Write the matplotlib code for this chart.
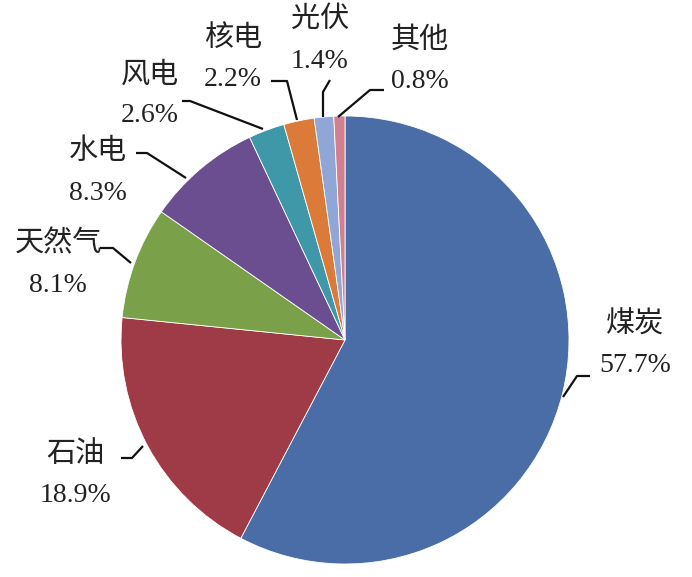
import matplotlib
matplotlib.use('Agg')
import matplotlib.pyplot as plt

plt.rcParams['font.family'] = ['Liberation Serif', 'Noto Sans CJK SC']

# energy mix shares (%)
sources = ['煤炭', '石油', '天然气', '水电', '风电', '核电', '光伏', '其他']
shares = [57.7, 18.9, 8.1, 8.3, 2.6, 2.2, 1.4, 0.8]
colors = ['#4A6DA7', '#9E3B47', '#7BA04A', '#6A4E8F',
          '#3E98A8', '#DC7A3A', '#8FA6D6', '#D0808F']

W, H = 692, 577
cx, cy, r = 345, 340, 224

def px(x, y):
    # pixel coords (origin top-left) -> data coords
    return x, H - y

# label layout: text centre (name line), leader path points (pixel coords)
layout = {
    '煤炭': ((635, 325), [(563, 397), (577, 376), (590, 376)]),
    '石油': ((75, 455), [(143, 446), (132, 458), (121, 458)]),
    '天然气': ((58, 244), [(131, 263), (113, 248), (100, 248)]),
    '水电': ((98, 152), [(186, 178), (147, 153), (136, 153)]),
    '风电': ((150, 75), [(263, 129), (190, 101), (182, 101)]),
    '核电': ((233, 38), [(297, 120), (287, 81), (271, 81)]),
    '光伏': ((320, 20), [(323, 117), (323, 92), (330, 80)]),
    '其他': ((420, 40), [(338, 117), (370, 90), (384, 90)]),
}

fig = plt.figure(figsize=(W / 100, H / 100), dpi=100)
ax = fig.add_axes([0, 0, 1, 1])

ax.pie(shares, colors=colors, startangle=90, counterclock=False,
       center=px(cx, cy), radius=r, frame=True,
       wedgeprops=dict(edgecolor='white', linewidth=0.6))

for name, val in zip(sources, shares):
    (tx, ty), path = layout[name]
    xs, ys = zip(*[px(x, y) for x, y in path])
    ax.plot(xs, ys, color='#111111', lw=1.6, solid_capstyle='butt')
    ax.text(*px(tx, ty), name, ha='center', va='center', fontsize=21,
            color='#222222')
    ax.text(*px(tx, ty + 41), f'{val:.1f}%', ha='center', va='center',
            fontsize=20, color='#222222')

ax.set_xlim(0, W)
ax.set_ylim(0, H)
ax.set_aspect('equal')
ax.axis('off')

fig.savefig('out.png', dpi=100)
